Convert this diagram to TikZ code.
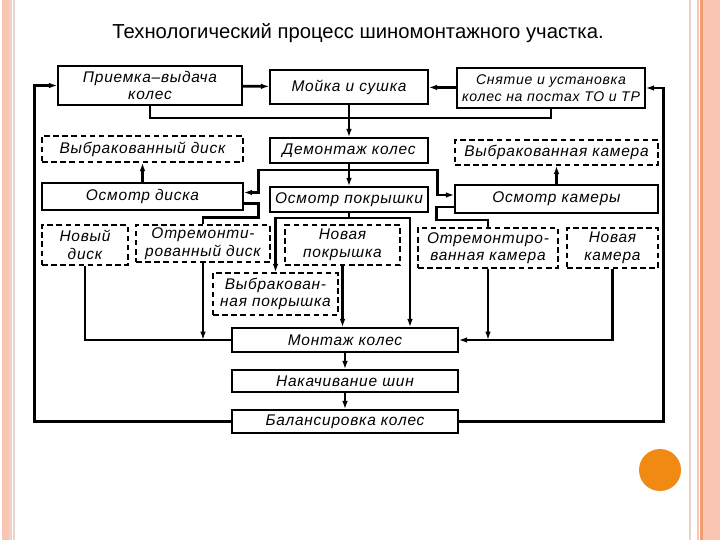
\documentclass[tikz,border=0pt]{standalone}
\usepackage{fontspec}
\setmainfont{Liberation Sans}
\newfontfamily\titlefont{Liberation Sans}
\newfontfamily\boxfont[LetterSpace=5]{Liberation Sans}
\usepackage{xcolor}
\definecolor{Stripe}{HTML}{F7C5B2}
\definecolor{StripeDark}{HTML}{EE9E72}
\definecolor{StripePale}{HTML}{EAD3CB}
\definecolor{Dot}{HTML}{F08A12}
\colorlet{stripe}{Stripe}
\colorlet{stripedark}{StripeDark}
\colorlet{stripepale}{StripePale}
\colorlet{dot}{Dot}
\usepackage{tikz}
\usetikzlibrary{arrows.meta,calc}

\begin{document}
\begin{tikzpicture}[x=0.025cm,y=-0.025cm,every node/.style={font=\boxfont\itshape\fontsize{11}{12.5}\selectfont,align=center,inner sep=1pt},
box/.style={draw,line width=0.9pt},dbox/.style={draw,line width=0.9pt,dash pattern=on 4pt off 2.5pt},
line/.style={line width=2pt},arr/.style={line width=2pt,-{Latex[length=6pt,width=4pt]}}]
\useasboundingbox (0,0) rectangle (720,540);
\fill[white] (0,0) rectangle (720,540);
\fill[stripe] (2,0) rectangle (9,540);\fill[stripepale] (9,0) rectangle (12,540);\fill[stripepale] (13,0) rectangle (14.5,540);
\fill[stripepale] (689,0) rectangle (691,540);\fill[stripe] (697,0) rectangle (699,540);\fill[stripedark] (700,0) rectangle (703,540);\fill[stripe] (703,0) rectangle (720,540);
\node[font=\titlefont\fontsize{14.4}{16}\selectfont] (title) at (358,33) {Технологический процесс шиномонтажного участка.};
\node[box,minimum width=4.6cm,minimum height=0.975cm] (priem) at (150,85.5) {Приемка–выдача\\колес};
\node[box,minimum width=3.95cm,minimum height=0.85cm] (moika) at (349,87) {Мойка и сушка};
\node[box,minimum width=4.7cm,minimum height=1cm,font=\boxfont\itshape\fontsize{10}{12.5}\selectfont] (snyat) at (551,88) {Снятие и установка\\колес на постах ТО и ТР};
\node[dbox,minimum width=5.025cm,minimum height=0.65cm] (brdisk) at (142.5,149) {Выбракованный диск};
\node[box,minimum width=3.95cm,minimum height=0.625cm] (demont) at (349,150.5) {Демонтаж колес};
\node[dbox,minimum width=5.075cm,minimum height=0.625cm] (brkam) at (556.5,152.5) {Выбракованная камера};
\node[box,minimum width=5.025cm,minimum height=0.675cm] (osdisk) at (142.5,196.5) {Осмотр диска};
\node[box,minimum width=3.95cm,minimum height=0.625cm] (ospokr) at (349,199.5) {Осмотр покрышки};
\node[box,minimum width=5.075cm,minimum height=0.7cm] (oskam) at (556.5,199) {Осмотр камеры};
\node[dbox,minimum width=2.15cm,minimum height=1cm] (newdisk) at (85,245) {Новый\\диск};
\node[dbox,minimum width=3.35cm,minimum height=0.925cm] (remdisk) at (203,243.5) {Отремонти-\\рованный диск};
\node[dbox,minimum width=2.875cm,minimum height=1cm] (newpokr) at (342.5,245) {Новая\\покрышка};
\node[dbox,minimum width=3.5cm,minimum height=1cm] (remkam) at (488,248) {Отремонтиро-\\ванная камера};
\node[dbox,minimum width=2.275cm,minimum height=1cm] (newkam) at (612.5,248) {Новая\\камера};
\node[dbox,minimum width=3.125cm,minimum height=1.05cm] (brpokr) at (275.5,294) {Выбракован-\\ная покрышка};
\node[box,minimum width=5.65cm,minimum height=0.6cm] (montazh) at (345,340) {Монтаж колес};
\node[box,minimum width=5.65cm,minimum height=0.55cm] (nakach) at (345,381) {Накачивание шин};
\node[box,minimum width=5.65cm,minimum height=0.575cm] (balans) at (345,421.5) {Балансировка колес};
\coordinate (j1) at (349,118);
\coordinate (j2) at (349,170);
\coordinate (j3) at (349,218);
\draw[arr] (priem) -- (moika);\draw[arr] (snyat) -- (moika);\draw[arr] (moika) -- (demont);
\draw[line] (priem.south) |- (j1);\draw[line] (snyat.south) |- (j1);
\draw[arr] (demont) -- (ospokr);
\draw[arr] (j2) -| ($(osdisk.east)+(15,-4)$) -- ($(osdisk.east)+(0,-4)$);
\draw[arr] (j2) -| ($(oskam.west)+(-17,-4)$) -- ($(oskam.west)+(0,-4)$);
\draw[arr] (osdisk) -- (brdisk);\draw[arr] (oskam) -- (brkam);
\draw[line] ($(osdisk.east)+(0,7)$) -| ($(osdisk.east)+(15,21)$) -| (remdisk.north);
\draw[line] ($(oskam.west)+(0,8)$) -| ($(oskam.west)+(-18,21)$) -| (remkam.north);
\draw[line] (ospokr) -- (j3);
\draw[arr] (j3) -| (brpokr.north);
\draw[arr] (j3) -| ($(montazh.north)+(65,0)$);
\draw[arr] (newpokr.south) -- (newpokr.south|-montazh.north);
\draw[line] (newdisk.south) |- (montazh.west);
\draw[arr] (remdisk.south) -- (remdisk.south|-montazh.west);
\draw[arr] (newkam.south) |- (montazh.east);
\draw[arr] (remkam.south) -- (remkam.south|-montazh.east);
\draw[arr] (montazh) -- (nakach);\draw[arr] (nakach) -- (balans);
\draw[arr] (balans.west) -| ($(priem.west)+(-23,0)$) -- (priem.west);
\draw[arr] (balans.east) -| ($(snyat.east)+(18,0)$) -- (snyat.east);
\fill[dot] (660,470) circle (21);
\end{tikzpicture}
\end{document}
